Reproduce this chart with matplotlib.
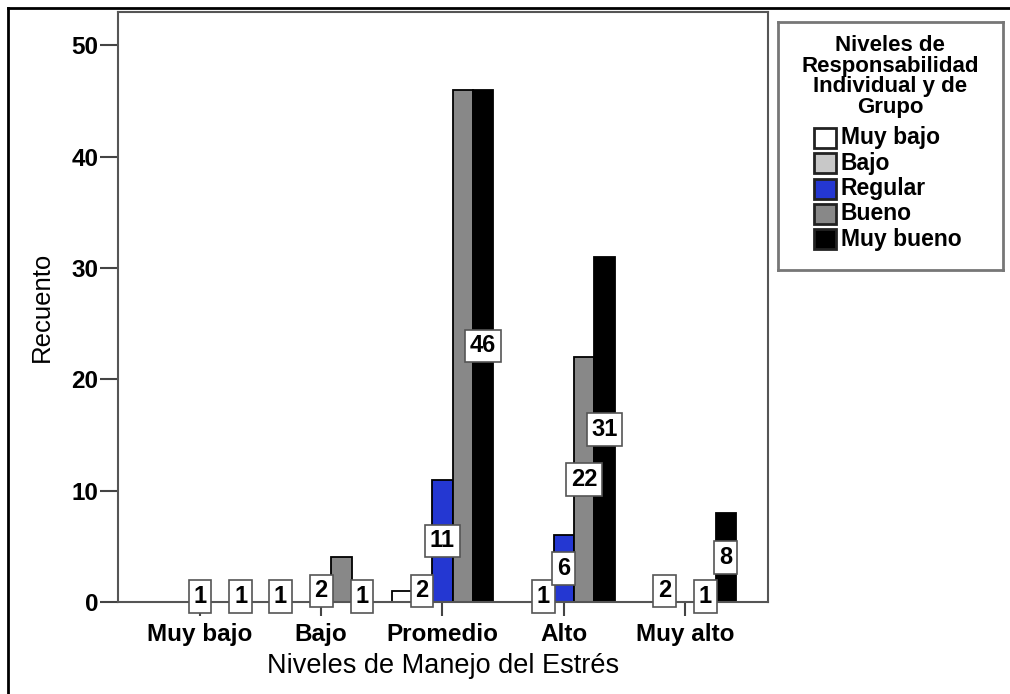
import numpy as np
import matplotlib.pyplot as plt
from matplotlib.patches import Rectangle
from matplotlib.lines import Line2D

plt.rcParams['font.family'] = ['Liberation Sans', 'DejaVu Sans']

# Data (counts per series, one value per x category)
categories = ['Muy bajo', 'Bajo', 'Promedio', 'Alto', 'Muy alto']
series = ['Muy bajo', 'Bajo', 'Regular', 'Bueno', 'Muy bueno']
counts_muy_bajo = [0, 1, 1, 0, 0]
counts_bajo = [0, 0, 2, 1, 2]
counts_regular = [1, 2, 11, 6, 0]
counts_bueno = [0, 4, 46, 22, 1]
counts_muy_bueno = [1, 1, 46, 31, 8]
counts = [counts_muy_bajo, counts_bajo, counts_regular, counts_bueno, counts_muy_bueno]
# labels SPSS dropped because of overlap: (series index, category index)
hidden_labels = [(0, 2), (3, 2), (3, 1)]

colors = ['#ffffff', '#c8c8c8', '#2437d2', '#888888', '#000000']
legend_title = ['Niveles de', 'Responsabilidad', 'Individual y de', 'Grupo']

W, H = 1010, 694
fig = plt.figure(figsize=(W / 100, H / 100), dpi=100)
ax = fig.add_axes([118 / W, 1 - 602 / H, (768 - 118) / W, (602 - 12) / H])

x = np.arange(len(categories))
w = 0.168
for i, (vals, col) in enumerate(zip(counts, colors)):
    xpos = x + (i - 2) * w
    ax.bar(xpos, vals, w, color=col, edgecolor='black', linewidth=1.3, zorder=2)
    for j, v in enumerate(vals):
        if v == 0 or (i, j) in hidden_labels:
            continue
        ax.text(xpos[j], v / 2, str(v), ha='center', va='center',
                fontsize=17, fontweight='bold', zorder=4,
                bbox=dict(boxstyle='square,pad=0.2', fc='white', ec='#555555', lw=1.2))

ax.set_xlim(-0.676, 4.685)
ax.set_ylim(0, 53)
ax.set_yticks(np.arange(0, 51, 10))
ax.set_xticks(x)
ax.set_xticklabels(categories, fontsize=17.5, fontweight='bold')
for lab in ax.get_yticklabels():
    lab.set_fontsize(17.5)
    lab.set_fontweight('bold')
ax.tick_params(axis='y', length=13, width=1.5, color='#444444', pad=1)
ax.tick_params(axis='x', length=10, width=1.5, color='#444444', pad=5)
for sp in ax.spines.values():
    sp.set_color('#555555')
    sp.set_linewidth(1.5)

fig.text(443 / W, 1 - 666 / H, 'Niveles de Manejo del Estrés', ha='center', va='center', fontsize=19.5)
fig.text(42 / W, 1 - 307 / H, 'Recuento', ha='center', va='center', rotation=90, fontsize=18.5)

# Legend box drawn in pixel coordinates
lax = fig.add_axes([778 / W, 1 - 270 / H, 225 / W, 248 / H])
lax.set_xlim(0, 225)
lax.set_ylim(248, 0)
lax.set_xticks([])
lax.set_yticks([])
for sp in lax.spines.values():
    sp.set_color('#777777')
    sp.set_linewidth(2)
for k, line in enumerate(legend_title):
    lax.text(112, 24 + k * 20.5, line, ha='center', va='center', fontsize=16, fontweight='bold')
for k, (name, col) in enumerate(zip(series, colors)):
    yc = 116 + k * 25.3
    lax.add_patch(Rectangle((36, yc - 10), 22, 20, fc=col, ec='#222222', lw=2))
    lax.text(63, yc, name, ha='left', va='center', fontsize=16.5, fontweight='bold')

# outer border of the screenshot (top and left)
fig.add_artist(Line2D([8 / W, 8 / W], [0, 1 - 8 / H], color='black', lw=2))
fig.add_artist(Line2D([8 / W, 1], [1 - 8 / H, 1 - 8 / H], color='black', lw=2))

fig.savefig('out.png', dpi=100)
